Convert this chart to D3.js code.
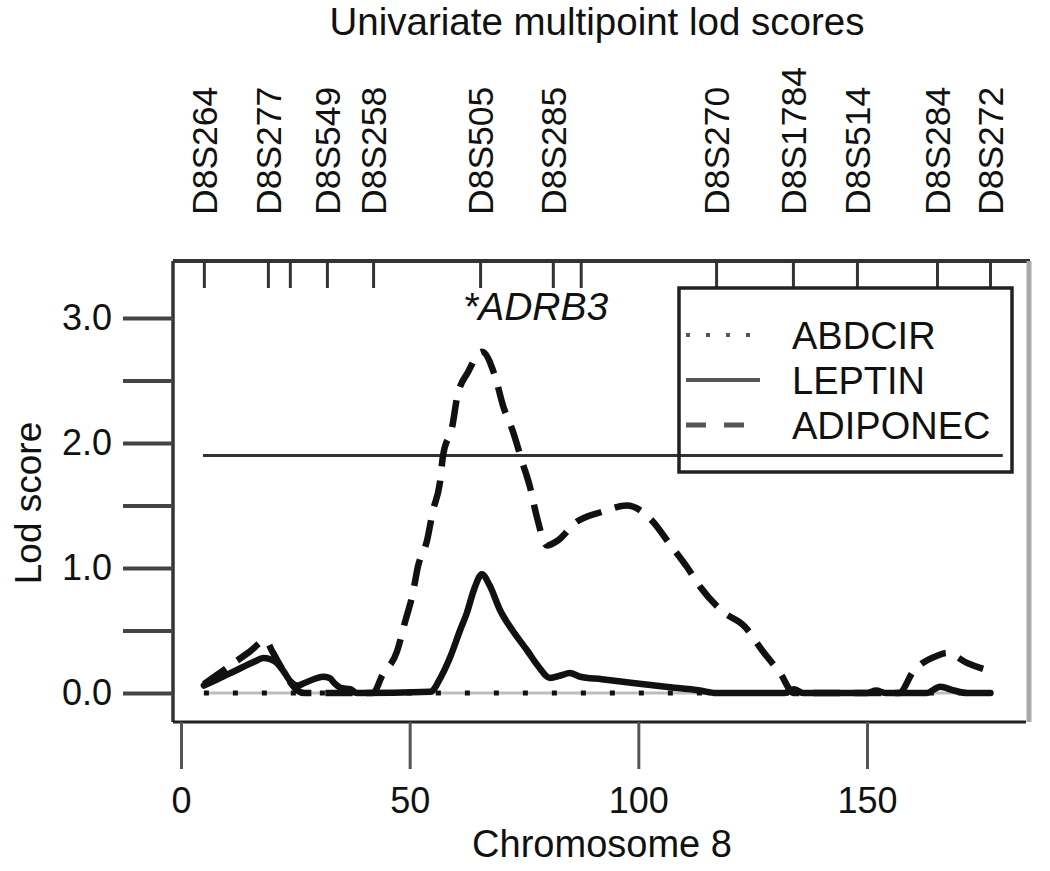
<!DOCTYPE html>
<html>
<head>
<meta charset="utf-8">
<script src="https://cdn.jsdelivr.net/npm/d3@7"></script>
<style>
  html, body { margin: 0; padding: 0; background: #fff; }
  svg { display: block; font-family: "Liberation Sans", Arial, Helvetica, sans-serif; }
</style>
</head>
<body>
<svg id="chart" width="1050" height="871"></svg>
<script>
// ---------- data ----------
const markerNames = ["D8S264","D8S277","","D8S549","D8S258","D8S505","D8S285","","D8S270","D8S1784","D8S514","D8S284","D8S272"];
const markerPos   = [5.0, 19.0, 23.8, 31.9, 42.0, 65.4, 81.3, 87.4, 117.0, 133.8, 147.8, 165.3, 176.9];

const xTicks = [0, 50, 100, 150];
const yTicks = [0, 0.5, 1, 1.5, 2, 2.5, 3];
const threshold = 1.9;
const thresholdRange = [4.8, 179.7];

// ABDCIR: flat at zero along the chromosome
const abdcirCM  = [5, 177];
const abdcirLod = [0, 0];

// LEPTIN (solid)
const leptinCM  = [5, 8, 12, 16, 18, 19.5, 21, 22.5, 24, 25.5, 27, 29, 31, 32.5, 33.5, 35, 37, 38.5, 54.5, 57, 59, 61, 62.5, 64, 65.8, 67.5, 69.8, 72.5, 75.7, 78, 80.7, 83, 85, 87.3, 92, 98.8, 106, 113.5, 117, 132, 134, 136, 150, 152, 154, 163, 166, 169, 172, 177];
const leptinLod = [0.06, 0.11, 0.18, 0.25, 0.28, 0.27, 0.24, 0.17, 0.09, 0.06, 0.08, 0.11, 0.13, 0.12, 0.08, 0.04, 0.03, 0, 0.01, 0.14, 0.3, 0.5, 0.64, 0.82, 0.95, 0.86, 0.66, 0.5, 0.34, 0.22, 0.12, 0.14, 0.16, 0.13, 0.11, 0.08, 0.05, 0.02, 0, 0, 0.03, 0, 0, 0.02, 0, 0, 0.05, 0.02, 0, 0];

// ADIPONEC (dashed)
const adipoCM  = [5, 10, 15, 18.5, 20, 22, 24, 25.5, 27, 42, 44, 47.2, 49, 50.7, 51.8, 53.8, 55.1, 56.6, 57.3, 59.3, 60.4, 62.8, 65.8, 68.7, 70.4, 72.6, 74.6, 76.3, 77.8, 80.0, 82.4, 86.2, 92.1, 97.5, 103.2, 106.5, 110.6, 113.5, 118.5, 123.3, 127.3, 131.0, 134, 157, 160.1, 165.5, 167.5, 171.9, 177.3];
const adipoLod = [0.07, 0.2, 0.33, 0.42, 0.33, 0.2, 0.08, 0.02, 0, 0, 0.14, 0.33, 0.57, 0.8, 1.01, 1.22, 1.46, 1.68, 1.9, 2.13, 2.37, 2.57, 2.73, 2.53, 2.3, 2.09, 1.85, 1.65, 1.41, 1.18, 1.22, 1.36, 1.45, 1.5, 1.37, 1.21, 1.01, 0.85, 0.65, 0.53, 0.33, 0.16, 0, 0, 0.17, 0.3, 0.32, 0.24, 0.17];

const legendLabels = ["ABDCIR", "LEPTIN", "ADIPONEC"];

// ---------- drawing ----------
const svg = d3.select("#chart");
const x = d3.scaleLinear().domain([0, 150]).range([181, 867]);
const y = d3.scaleLinear().domain([0, 3]).range([693, 318]);

const frame = { left: 173, top: 261, right: 1026, bottom: 722 };
const FS = 37;

// title
svg.append("text").attr("x", 597).attr("y", 35).attr("text-anchor", "middle")
  .attr("font-size", 38.5).attr("fill", "#111").text("Univariate multipoint lod scores");

// marker labels (rotated)
svg.append("g").selectAll("text")
  .data(markerNames.map((n, i) => ({ n, p: markerPos[i] })).filter(d => d.n))
  .join("text")
  .attr("transform", d => `translate(${x(d.p)},215) rotate(-90)`)
  .attr("dy", "0.36em")
  .attr("font-size", 35.5).attr("fill", "#111").text(d => d.n);

// marker ticks inside top of frame
const topAxis = svg.append("g").attr("transform", `translate(0,${frame.top})`)
  .call(d3.axisBottom(x).tickValues(markerPos).tickSize(27).tickFormat(""));
topAxis.select(".domain").remove();
topAxis.selectAll("line").attr("stroke", "#333").attr("stroke-width", 3);

// threshold line
svg.append("line")
  .attr("x1", x(thresholdRange[0])).attr("x2", x(thresholdRange[1]))
  .attr("y1", y(threshold)).attr("y2", y(threshold))
  .attr("stroke", "#333").attr("stroke-width", 3);

// curves
const line = d3.line().x(d => x(d[0])).y(d => y(d[1])).curve(d3.curveMonotoneX);
const zip = (a, b) => a.map((v, i) => [v, b[i]]);

svg.append("path").attr("d", line(zip(abdcirCM, abdcirLod)))
  .attr("fill", "none").attr("stroke", "#bdbdbd").attr("stroke-width", 3);
svg.append("path").attr("d", line(zip(abdcirCM, abdcirLod)))
  .attr("fill", "none").attr("stroke", "#111").attr("stroke-width", 5)
  .attr("stroke-dasharray", "5,24");

svg.append("path").attr("d", line(zip(adipoCM, adipoLod)))
  .attr("fill", "none").attr("stroke", "#111").attr("stroke-width", 6.5)
  .attr("stroke-dasharray", "27,14").attr("stroke-linejoin", "round");

svg.append("path").attr("d", line(zip(leptinCM, leptinLod)))
  .attr("fill", "none").attr("stroke", "#111").attr("stroke-width", 6.5)
  .attr("stroke-linejoin", "round").attr("stroke-linecap", "round");

// ADRB3 annotation
svg.append("text").attr("x", 463).attr("y", 320).attr("font-size", 39)
  .attr("font-style", "italic").attr("fill", "#111").text("*ADRB3");

// legend
const lg = svg.append("g");
lg.append("rect").attr("x", 679).attr("y", 288).attr("width", 333).attr("height", 184)
  .attr("fill", "none").attr("stroke", "#222").attr("stroke-width", 3.5);
const legY = [335, 380, 425];
const legStyles = [
  { dash: "4,16", w: 4 },
  { dash: null, w: 4 },
  { dash: "20,18", w: 5 }
];
legendLabels.forEach((lab, i) => {
  const l = lg.append("line").attr("x1", 686).attr("x2", 760)
    .attr("y1", legY[i]).attr("y2", legY[i])
    .attr("stroke", "#555").attr("stroke-width", legStyles[i].w);
  if (legStyles[i].dash) l.attr("stroke-dasharray", legStyles[i].dash);
  lg.append("text").attr("x", 792).attr("y", legY[i]).attr("dy", "0.36em")
    .attr("font-size", 38).attr("fill", "#111").text(lab);
});

// frame
svg.append("line").attr("x1", frame.left).attr("x2", frame.right + 4).attr("y1", frame.top).attr("y2", frame.top)
  .attr("stroke", "#333").attr("stroke-width", 4);
svg.append("line").attr("x1", frame.left).attr("x2", frame.left).attr("y1", frame.top).attr("y2", frame.bottom)
  .attr("stroke", "#333").attr("stroke-width", 3.5);
svg.append("line").attr("x1", frame.left).attr("x2", frame.right).attr("y1", frame.bottom).attr("y2", frame.bottom)
  .attr("stroke", "#222").attr("stroke-width", 3);
svg.append("line").attr("x1", frame.right + 3).attr("x2", frame.right + 3).attr("y1", frame.top).attr("y2", frame.bottom)
  .attr("stroke", "#aaa").attr("stroke-width", 5);

// y axis
const yAxis = svg.append("g").attr("transform", `translate(${frame.left},0)`)
  .call(d3.axisLeft(y).tickValues(yTicks).tickSize(50).tickPadding(11)
    .tickFormat(d => Number.isInteger(d) ? d.toFixed(1) : ""));
yAxis.select(".domain").remove();
yAxis.selectAll("line").attr("stroke", "#444").attr("stroke-width", 4);
yAxis.selectAll("text").attr("font-size", 36).attr("fill", "#111").attr("font-family", null);

// x axis
const xAxis = svg.append("g").attr("transform", `translate(0,${frame.bottom})`)
  .call(d3.axisBottom(x).tickValues(xTicks).tickSize(47).tickPadding(18).tickFormat(d3.format("d")));
xAxis.select(".domain").remove();
xAxis.selectAll("line").attr("stroke", "#555").attr("stroke-width", 3);
xAxis.selectAll("text").attr("font-size", 36).attr("fill", "#111").attr("font-family", null);

// axis titles
svg.append("text").attr("x", 602).attr("y", 857).attr("text-anchor", "middle")
  .attr("font-size", 38).attr("fill", "#111").text("Chromosome 8");
svg.append("text").attr("transform", "translate(28,503) rotate(-90)")
  .attr("text-anchor", "middle").attr("dy", "0.36em")
  .attr("font-size", FS).attr("fill", "#111").text("Lod score");
</script>
</body>
</html>
